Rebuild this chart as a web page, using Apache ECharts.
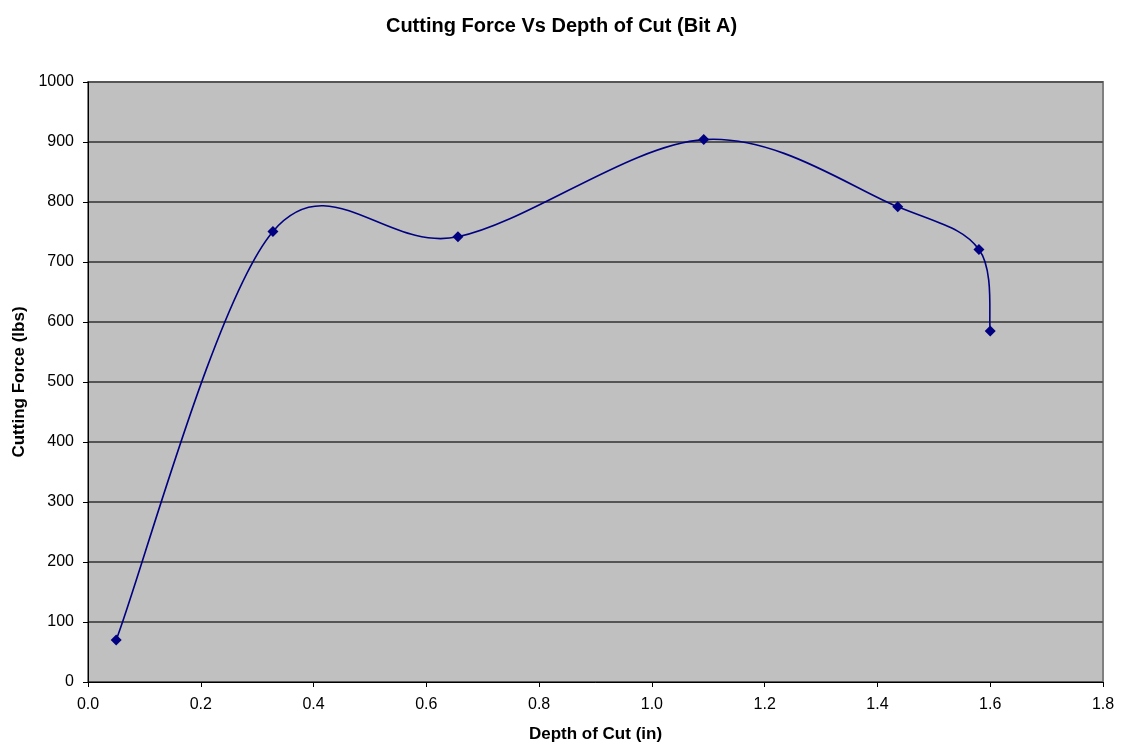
<!DOCTYPE html>
<html>
<head>
<meta charset="utf-8">
<script src="https://cdn.jsdelivr.net/npm/echarts@6/dist/echarts.min.js"></script>
<style>
html,body{margin:0;padding:0;background:#fff;}
#c{width:1123px;height:751px;}
</style>
</head>
<body>
<div id="c"></div>
<script>
const depth = [0.05, 0.328, 0.656, 1.092, 1.436, 1.580, 1.600];
const force = [70, 751, 742, 904, 792, 721, 585];
const xTicks = [0, 0.2, 0.4, 0.6, 0.8, 1.0, 1.2, 1.4, 1.6, 1.8];
const yTicks = [0, 100, 200, 300, 400, 500, 600, 700, 800, 900, 1000];

const font = 'Liberation Sans, Arial, sans-serif';
const lineColor = '#000080';
const pts = depth.map((d, i) => [d, force[i]]);

// Excel-style smoothed line (Catmull-Rom -> cubic Bezier), computed in pixel space via axis coords
function renderSegment(params, api) {
  const i = params.dataIndex;
  const n = pts.length;
  if (i >= n - 1) return null;
  const P = j => api.coord(pts[Math.max(0, Math.min(n - 1, j))]);
  const p0 = P(i - 1), p1 = P(i), p2 = P(i + 1), p3 = P(i + 2);
  const k = 1 / 6;
  return {
    type: 'bezierCurve',
    shape: {
      x1: p1[0], y1: p1[1],
      cpx1: p1[0] + (p2[0] - p0[0]) * k, cpy1: p1[1] + (p2[1] - p0[1]) * k,
      cpx2: p2[0] - (p3[0] - p1[0]) * k, cpy2: p2[1] - (p3[1] - p1[1]) * k,
      x2: p2[0], y2: p2[1]
    },
    style: {stroke: lineColor, fill: null, lineWidth: 1.6}
  };
}

const chart = echarts.init(document.getElementById('c'), null, {renderer: 'canvas'});
chart.setOption({
  animation: false,
  backgroundColor: '#ffffff',
  title: {
    text: 'Cutting Force Vs Depth of Cut (Bit A)',
    left: 'center', top: 11,
    textStyle: {fontFamily: font, fontSize: 20, fontWeight: 'bold', color: '#000'}
  },
  grid: {
    left: 88, right: 20, top: 82, bottom: 69,
    show: true, backgroundColor: '#c0c0c0', borderColor: '#808080', borderWidth: 2
  },
  xAxis: {
    type: 'value', min: xTicks[0], max: xTicks[xTicks.length-1], interval: 0.2,
    name: 'Depth of Cut (in)', nameLocation: 'middle', nameGap: 44,
    nameTextStyle: {fontFamily: font, fontSize: 17, fontWeight: 'bold', color: '#000'},
    axisLine: {show: true, onZero: false, lineStyle: {color: '#000', width: 1}},
    axisTick: {show: true, length: 5, lineStyle: {color: '#000'}},
    axisLabel: {fontFamily: font, fontSize: 16, color: '#000', margin: 15,
      formatter: v => v.toFixed(1)},
    splitLine: {show: false}
  },
  yAxis: {
    type: 'value', min: yTicks[0], max: yTicks[yTicks.length-1], interval: 100,
    name: 'Cutting Force (lbs)', nameLocation: 'middle', nameGap: 60,
    nameTextStyle: {fontFamily: font, fontSize: 17, fontWeight: 'bold', color: '#000'},
    axisLine: {show: true, onZero: false, lineStyle: {color: '#000', width: 1}},
    axisTick: {show: true, length: 5, lineStyle: {color: '#000'}},
    axisLabel: {fontFamily: font, fontSize: 16, color: '#000', margin: 14,
      formatter: v => String(v)},
    splitLine: {show: true, lineStyle: {color: '#555555', width: 2}}
  },
  series: [{
    type: 'custom',
    data: pts,
    encode: {x: 0, y: 1},
    clip: false,
    renderItem: renderSegment,
    z: 2
  }, {
    type: 'scatter',
    data: pts,
    symbol: 'diamond', symbolSize: 11,
    itemStyle: {color: lineColor, opacity: 1},
    z: 3
  }]
});
</script>
</body>
</html>
